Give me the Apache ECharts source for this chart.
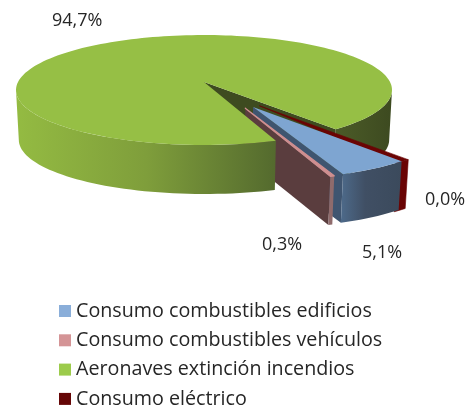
<!DOCTYPE html>
<html><head><meta charset="utf-8">
<style>html,body{margin:0;padding:0;background:#fff}#c{width:468px;height:410px}</style>
<script src="https://cdn.jsdelivr.net/npm/echarts@6/dist/echarts.min.js"></script>
</head><body><div id="c"></div>
<script>
const categories = ['Consumo combustibles edificios','Consumo combustibles vehículos','Aeronaves extinción incendios','Consumo eléctrico'];
const values = [5.1, 0.3, 94.7, 0.0];
const legendColors = ['#8aaed9','#d49496','#9ccb4b','#650606'];

// projection of the tilted pie
const CX=204, CY=82, RX=186, RY=53.8, K=0.1455, SHRINK=0.015, DEPTH=50;
const START=51.1, FONT='"Open Sans", sans-serif', INK='#262626';
function project(u,v,z){const w=1-K*v,s=1-SHRINK*z;return [CX+RX*u/w*s,CY+RY*v/w*s+DEPTH*z];}
function rad(d){return d*Math.PI/180;}
const WIDEST=Math.asin(K)*180/Math.PI;
const total=values.reduce((a,b)=>a+b,0);
const angles=[];{let a=START;values.forEach(v=>{const b=a+v/total*360;angles.push([a,b]);a=b;});}
function offset(dir,dist){return [Math.cos(rad(dir))*dist,Math.sin(rad(dir))*dist];}
function rim(a0,a1,off,z){const n=Math.max(2,Math.ceil(Math.abs(a1-a0)/2)),p=[];
  for(let i=0;i<=n;i++){const a=rad(a0+(a1-a0)*i/n);p.push(project(off[0]+Math.cos(a),off[1]+Math.sin(a),z));}return p;}
function sector(a0,a1,off){return [project(off[0],off[1],0)].concat(rim(a0,a1,off,0));}
function cut(a,off){return [project(off[0],off[1],0),project(off[0]+Math.cos(rad(a)),off[1]+Math.sin(rad(a)),0),
  project(off[0]+Math.cos(rad(a)),off[1]+Math.sin(rad(a)),1),project(off[0],off[1],1)];}
function wall(a0,a1,off){return rim(a0,a1,off,0).concat(rim(a1,a0,off,1));}
function poly(points,fill,stroke,lw){return {type:'polygon',shape:{points},style:{fill,stroke:stroke||null,lineWidth:lw||0,lineJoin:'round'}};}
function grad(stops){return {type:'linear',x:0,y:0,x2:1,y2:0,colorStops:stops.map(s=>({offset:s[0],color:s[1]}))};}
function label(i,x,y){return {type:'text',x,y,style:{text:values[i].toFixed(1).replace('.',',')+'%',font:'18px '+FONT,fill:INK,align:'left',verticalAlign:'middle'}};}

const painters={
 greenBack(){const a1=angles[2][1]-360,o=[0,0];return [
   poly(wall(a1,WIDEST,o),grad([[0,'#4c5c28'],[1,'#3d4a20']])),
   poly(cut(a1,o),'#3e4b20')];},
 red(){const a=angles[3][0]-360,o=offset(56,0.5);const under=4;return [
   poly(wall(a,a+under,o),'#6a0404','#6a0404',0.6),
   poly(sector(a,a+under,o),'#6a0404','#6a0404',0.6),
   label(3,425,200)];},
 blue(){const [a0,a1]=angles[0],o=offset(60.4,0.5);return [
   poly(cut(a1,o),'#3f5570'),
   poly(wall(a0,a1,o),grad([[0,'#4d6a8a'],[0.4,'#404f64'],[1,'#3b4a5c']])),
   poly(sector(a0,a1,o),'#7ea5d1'),
   label(0,362,253)];},
 pink(){const [a0,a1]=angles[1],o=offset(65.5,0.5);return [
   poly(cut(a1,o),'#5a3d3e'),
   poly(wall(a0,a1,o),'#8f6b6c'),
   poly(sector(a0,a1,o),'#cf8f90','#cf8f90',1.2),
   label(1,262,245)];},
 green(){const a0=angles[2][0],a1=angles[2][1],o=[0,0];return [
   poly(wall(a0,180-WIDEST,o),grad([[0,'#94bb42'],[0.5,'#7f9e3b'],[1,'#546a2e']])),
   poly(sector(a0,a1,o),'#96bf45'),
   label(2,52,21)];}
};
const layers=[['','greenBack',1,legendColors[2]],[categories[3],'red',2,legendColors[3]],[categories[0],'blue',3,legendColors[0]],
 [categories[1],'pink',4,legendColors[1]],[categories[2],'green',5,legendColors[2]]];
const chart=echarts.init(document.getElementById('c'),null,{renderer:'canvas'});
chart.setOption({
 animation:false,backgroundColor:'#fff',
 legend:{data:categories.map(n=>({name:n,icon:'rect'})),orient:'vertical',left:59,top:301,height:110,padding:0,itemWidth:12,itemHeight:12,itemGap:9.3,selectedMode:false,
   textStyle:{fontFamily:FONT,fontSize:19.7,color:INK}},
 series:layers.map(([name,key,z,color])=>({type:'custom',name:name||'_back',coordinateSystem:'none',z,silent:true,itemStyle:{color},data:[[0]],
   renderItem(){return {type:'group',children:painters[key]()};}}))
});
</script></body></html>
